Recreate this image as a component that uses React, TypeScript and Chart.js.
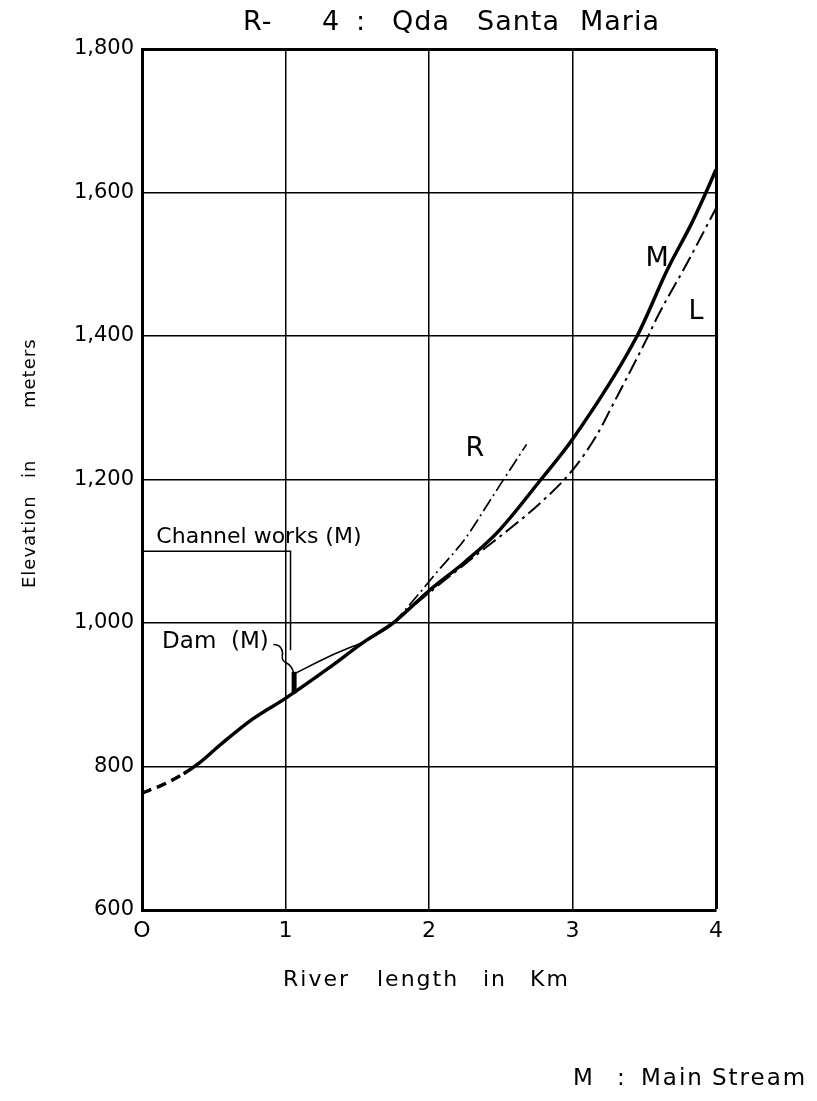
import React, { useEffect, useRef } from "react";
import { Chart, registerables } from "chart.js";

Chart.register(...registerables);

// ---- Axis ticks ----
const xTicks = [0, 1, 2, 3, 4];
const xTickLabels = ["O", "1", "2", "3", "4"];
const yTicks = [600, 800, 1000, 1200, 1400, 1600, 1800];
const yTickLabels = ["600", "800", "1,000", "1,200", "1,400", "1,600", "1,800"];

// ---- M : Main stream ----
const mainKm = [0, 0.15, 0.29, 0.4, 0.55, 0.77, 1.0, 1.3, 1.55, 1.75, 2.0, 2.25, 2.48, 2.78, 3.0, 3.45, 3.66, 3.83, 3.93, 4.0];
const mainElev = [763, 775, 790, 805, 831, 866, 895, 937, 974, 1000, 1045, 1085, 1127, 1200, 1256, 1400, 1492, 1557, 1600, 1632];
const mainDashedUntilKm = 0.29;

// ---- L : left tributary ----
const leftKm = [1.75, 2.0, 2.25, 2.35, 2.56, 2.78, 3.0, 3.17, 3.27, 3.52, 3.6, 3.8, 4.0];
const leftElev = [1000, 1042, 1082, 1098, 1131, 1168, 1213, 1262, 1300, 1397, 1430, 1502, 1578];

// ---- R : right tributary ----
const rightKm = [1.75, 1.82, 2.06, 2.25, 2.42, 2.51, 2.68];
const rightElev = [1000, 1015, 1072, 1117, 1169, 1197, 1249];

// ---- Dam backwater profile ----
const damBranchKm = [1.07, 1.3, 1.55];
const damBranchElev = [930, 953, 974];

// ---- Dam body ----
const damKm = [1.06, 1.06];
const damElev = [902, 932];

// ---- Channel works leader ----
const channelKm = [0, 1.035, 1.035];
const channelElev = [1100, 1100, 962];

const pts = (xs: number[], ys: number[]) => xs.map((v, i) => ({ x: v, y: ys[i] }));

const FONT = '"DejaVu Sans", sans-serif';

function drawWords(ctx: CanvasRenderingContext2D, words: [string, number][], y: number, size: number, spacing = 0) {
  ctx.font = `${size}px ${FONT}`;
  (ctx as any).letterSpacing = `${spacing}px`;
  ctx.textAlign = "left";
  ctx.textBaseline = "middle";
  for (const [w, x] of words) ctx.fillText(w, x, y);
  (ctx as any).letterSpacing = "0px";
}

const annotationPlugin = {
  id: "annotations",
  afterDraw(chart: any) {
    const ctx: CanvasRenderingContext2D = chart.ctx;
    const xs = chart.scales.x;
    const ys = chart.scales.y;
    const px = (v: number) => xs.getPixelForValue(v);
    const py = (v: number) => ys.getPixelForValue(v);
    ctx.save();
    ctx.fillStyle = "#000";
    ctx.strokeStyle = "#000";

    // Title
    drawWords(ctx, [["R-", 243], ["4", 322], [":", 356], ["Qda", 392], ["Santa", 477], ["Maria", 580]], 23, 27, 1);

    // X axis title
    drawWords(ctx, [["River", 283], ["length", 377], ["in", 483], ["Km", 530]], 980, 22, 2);

    // Y axis title (rotated)
    ctx.font = `18px ${FONT}`;
    (ctx as any).letterSpacing = "1px";
    ctx.textAlign = "left";
    ctx.textBaseline = "middle";
    const yWords: [string, number][] = [["Elevation", 588], ["in", 478], ["meters", 408]];
    for (const [w, yy] of yWords) {
      ctx.save();
      ctx.translate(30, yy);
      ctx.rotate(-Math.PI / 2);
      ctx.fillText(w, 0, 0);
      ctx.restore();
    }
    (ctx as any).letterSpacing = "0px";

    // Series labels
    ctx.font = `27px ${FONT}`;
    ctx.textAlign = "center";
    ctx.textBaseline = "middle";
    ctx.fillText("M", px(3.59), py(1507));
    ctx.fillText("L", px(3.86), py(1433));
    ctx.fillText("R", px(2.32), py(1242));

    // Channel works label
    ctx.font = `22px ${FONT}`;
    ctx.textAlign = "left";
    ctx.fillText("Channel works (M)", px(0.1), py(1120));

    // Dam label
    ctx.font = `23px ${FONT}`;
    ctx.fillText("Dam  (M)", px(0.14), py(974));

    // Dam leader squiggle
    const x0 = px(0.915);
    const y0 = py(970);
    const x1 = px(1.055);
    const y1 = py(931);
    ctx.lineWidth = 1.5;
    ctx.beginPath();
    ctx.moveTo(x0, y0);
    ctx.bezierCurveTo(x0 + 8, y0, x0 + 10, y0 + 6, x0 + 9, y0 + 12);
    ctx.bezierCurveTo(x0 + 8, y0 + 20, x1 - 2, y1 - 12, x1, y1);
    ctx.stroke();

    // Bottom note
    drawWords(ctx, [["M", 573], [":", 617], ["Main", 641], ["Stream", 712]], 1079, 23, 2);

    ctx.restore();
  },
};

export default function App() {
  const canvasRef = useRef<HTMLCanvasElement | null>(null);

  useEffect(() => {
    document.body.style.margin = "0";
    const canvas = canvasRef.current;
    if (!canvas) return;

    const chart = new Chart(canvas, {
      type: "line",
      data: {
        datasets: [
          {
            label: "M",
            data: pts(mainKm, mainElev),
            borderColor: "#000",
            borderWidth: 3.5,
            pointRadius: 0,
            cubicInterpolationMode: "monotone",
            segment: {
              borderDash: (c: any) => (c.p1.parsed.x <= mainDashedUntilKm ? [10, 6] : undefined),
            },
          },
          {
            label: "L",
            data: pts(leftKm, leftElev),
            borderColor: "#000",
            borderWidth: 2,
            borderDash: [16, 5, 3, 5],
            pointRadius: 0,
            cubicInterpolationMode: "monotone",
          },
          {
            label: "R",
            data: pts(rightKm, rightElev),
            borderColor: "#000",
            borderWidth: 1.7,
            borderDash: [14, 4, 2, 4],
            pointRadius: 0,
            cubicInterpolationMode: "monotone",
          },
          {
            label: "Dam backwater",
            data: pts(damBranchKm, damBranchElev),
            borderColor: "#000",
            borderWidth: 1.6,
            pointRadius: 0,
            cubicInterpolationMode: "monotone",
          },
          {
            label: "Dam",
            data: pts(damKm, damElev),
            borderColor: "#000",
            borderWidth: 5,
            pointRadius: 0,
            tension: 0,
          },
          {
            label: "Channel works",
            data: pts(channelKm, channelElev),
            borderColor: "#000",
            borderWidth: 1.5,
            pointRadius: 0,
            tension: 0,
          },
        ],
      },
      options: {
        animation: false,
        responsive: false,
        maintainAspectRatio: false,
        events: [],
        layout: { padding: { left: 0, top: 49, right: 101, bottom: 151 } },
        plugins: {
          legend: { display: false },
          tooltip: { enabled: false },
          title: { display: false },
        },
        scales: {
          x: {
            type: "linear",
            min: 0,
            max: 4,
            afterBuildTicks: (s: any) => {
              s.ticks = xTicks.map((v) => ({ value: v }));
            },
            afterFit: (s: any) => {
              s.height = 40;
            },
            ticks: {
              callback: (v: any) => xTickLabels[xTicks.indexOf(Number(v))] ?? "",
              color: "#000",
              font: { family: FONT, size: 22 },
              padding: 8,
              maxRotation: 0,
              autoSkip: false,
            },
            grid: {
              color: "#000",
              lineWidth: (c: any) => (c.tick && c.tick.value === 4 ? 3 : 1.5),
              drawTicks: false,
            },
            border: { color: "#000", width: 3 },
          },
          y: {
            type: "linear",
            min: 600,
            max: 1800,
            afterBuildTicks: (s: any) => {
              s.ticks = yTicks.map((v) => ({ value: v }));
            },
            afterFit: (s: any) => {
              s.width = 142;
            },
            ticks: {
              callback: (v: any) => yTickLabels[yTicks.indexOf(Number(v))] ?? "",
              color: "#000",
              font: { family: FONT, size: 21 },
              padding: 8,
              autoSkip: false,
            },
            grid: {
              color: "#000",
              lineWidth: (c: any) => (c.tick && c.tick.value === 1800 ? 3 : 1.5),
              drawTicks: false,
            },
            border: { color: "#000", width: 3 },
          },
        },
      },
      plugins: [annotationPlugin],
    } as any);

    return () => chart.destroy();
  }, []);

  return (
    <div style={{ width: 817, height: 1101, background: "#fff" }}>
      <canvas ref={canvasRef} width={817} height={1101} style={{ display: "block", width: 817, height: 1101 }} />
    </div>
  );
}
